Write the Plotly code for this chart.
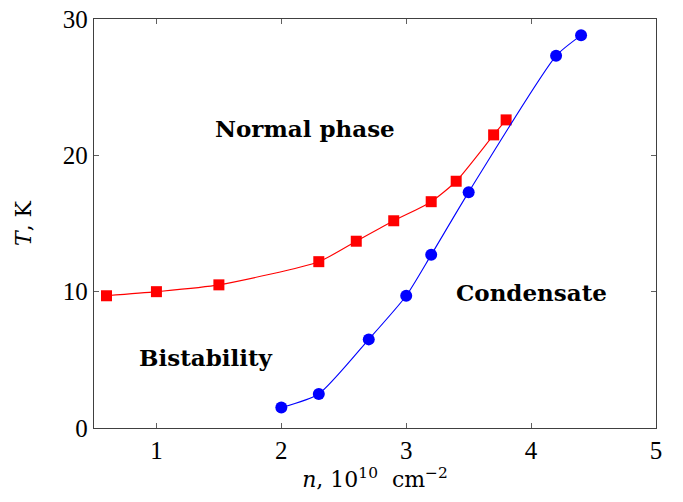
import plotly.graph_objects as go

# Phase boundary data: density n (10^10 cm^-2) vs temperature T (K)
n_normal = [0.6, 1.0, 1.5, 2.3, 2.6, 2.9, 3.2, 3.4, 3.7, 3.8]
T_normal = [9.7, 10.0, 10.5, 12.2, 13.7, 15.2, 16.6, 18.1, 21.5, 22.6]

n_cond = [2.0, 2.3, 2.7, 3.0, 3.2, 3.5, 4.2, 4.4]
T_cond = [1.5, 2.5, 6.5, 9.7, 12.7, 17.3, 27.3, 28.8]

x_ticks = [1, 2, 3, 4, 5]
y_ticks = [0, 10, 20, 30]

region_labels = ["Normal phase", "Condensate", "Bistability"]
region_x = [2.19, 4.0, 1.4]
region_y = [22.0, 9.95, 5.2]

FONT = "Liberation Serif"
BOLD_FONT = "DejaVu Serif"

fig = go.Figure()
fig.add_trace(go.Scatter(
    x=n_normal, y=T_normal, mode="lines+markers",
    line=dict(color="#ff0000", width=1.1, shape="spline", smoothing=0.6),
    marker=dict(symbol="square", size=11, color="#ff0000"),
    showlegend=False,
))
fig.add_trace(go.Scatter(
    x=n_cond, y=T_cond, mode="lines+markers",
    line=dict(color="#0000ff", width=1.1, shape="spline", smoothing=0.6),
    marker=dict(symbol="circle", size=12, color="#0000ff"),
    showlegend=False,
))

for txt, xx, yy in zip(region_labels, region_x, region_y):
    fig.add_annotation(x=xx, y=yy, text=f"<b>{txt}</b>", showarrow=False,
                       font=dict(family=BOLD_FONT, size=23, color="black"))

axis_common = dict(
    showline=True, linecolor="#404040", linewidth=1.3, mirror="ticks",
    ticks="inside", ticklen=5, tickcolor="#606060", tickwidth=1,
    showgrid=False, zeroline=False, automargin=False,
    tickfont=dict(family=FONT, size=25, color="black"),
)

fig.update_xaxes(range=[0.5, 5.0], tickvals=x_ticks,
                 title=dict(text="<i>n</i>,\u00a010<sup>10</sup>\u00a0\u00a0cm<sup>−2</sup>",
                            font=dict(family=BOLD_FONT, size=22, color="black"),
                            standoff=2),
                 **axis_common)
fig.update_yaxes(range=[0, 30], tickvals=y_ticks,
                 title=dict(text="<i>T</i>,\u00a0K",
                            font=dict(family=BOLD_FONT, size=22, color="black"),
                            standoff=25),
                 **axis_common)

fig.update_layout(
    width=683, height=502,
    margin=dict(l=94, r=27, t=19, b=74),
    paper_bgcolor="white", plot_bgcolor="white",
)

fig.write_html("out.html")
